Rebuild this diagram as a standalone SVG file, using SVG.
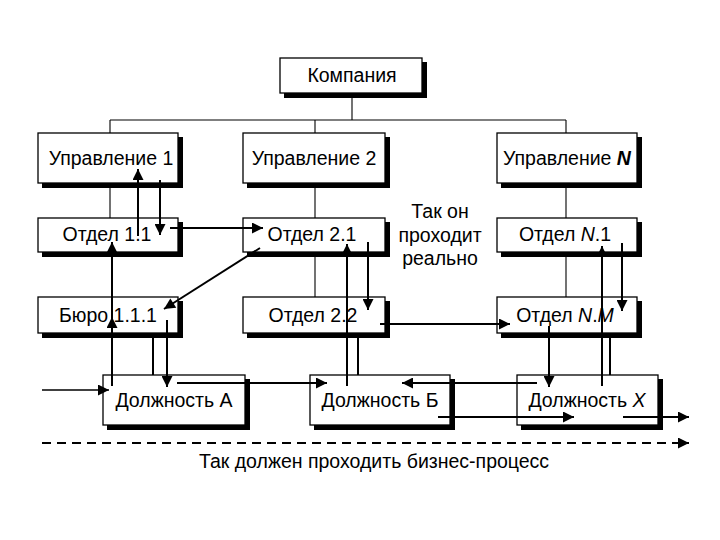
<svg xmlns="http://www.w3.org/2000/svg" width="720" height="540" viewBox="0 0 720 540">
<style>
.box{fill:#fff;stroke:#000;stroke-width:1.3}
.sh{fill:#000}
.t{font-family:"Liberation Sans",Arial,sans-serif;font-size:19.5px;fill:#000;text-anchor:middle}
.tree{stroke:#000;stroke-width:1.1;fill:none}
.ar{stroke:#000;stroke-width:2;fill:none;marker-end:url(#ah)}
.ln{stroke:#000;stroke-width:2;fill:none}
.dash{stroke:#000;stroke-width:1.8;fill:none;stroke-dasharray:9 6;marker-end:url(#ah)}
</style>
<defs>
<marker id="ah" viewBox="0 0 10 10" refX="10" refY="5" markerWidth="13" markerHeight="11" markerUnits="userSpaceOnUse" orient="auto"><path d="M0,0 L10,5 L0,10 z" fill="#000"/></marker>
</defs>
<rect width="720" height="540" fill="#fff"/>

<g id="n-company"><rect class="sh" x="284" y="62" width="143" height="36"/><rect class="box" x="280" y="58" width="142" height="35"/><text class="t" x="352" y="82">Компания</text></g>

<g id="n-upr1"><rect class="sh" x="42" y="137" width="141" height="51"/><rect class="box" x="38" y="133" width="140" height="50"/><text class="t" x="111" y="165">Управление 1</text></g>
<g id="n-upr2"><rect class="sh" x="247" y="137" width="143" height="51"/><rect class="box" x="243" y="133" width="142" height="50"/><text class="t" x="314" y="165">Управление 2</text></g>
<g id="n-uprN"><rect class="sh" x="501" y="137" width="141" height="51"/><rect class="box" x="497" y="133" width="140" height="50"/><text class="t" x="567" y="165">Управление <tspan font-style="italic" font-weight="bold">N</tspan></text></g>

<g id="n-otd11"><rect class="sh" x="42" y="222" width="141" height="35"/><rect class="box" x="38" y="218" width="140" height="34"/><text class="t" x="107" y="241">Отдел 1.1</text></g>
<g id="n-otd21"><rect class="sh" x="247" y="222" width="143" height="35"/><rect class="box" x="243" y="218" width="142" height="34"/><text class="t" x="312" y="241">Отдел 2.1</text></g>
<g id="n-otdN1"><rect class="sh" x="501" y="222" width="141" height="35"/><rect class="box" x="497" y="218" width="140" height="34"/><text class="t" x="565" y="241">Отдел <tspan font-style="italic">N</tspan>.1</text></g>

<g id="n-note"><text class="t" x="440" y="218">Так он</text><text class="t" x="440" y="242">проходит</text><text class="t" x="440" y="265">реально</text></g>

<g id="n-buro"><rect class="sh" x="42" y="301" width="141" height="37"/><rect class="box" x="38" y="297" width="140" height="36"/><text class="t" x="108" y="322">Бюро 1.1.1</text></g>
<g id="n-otd22"><rect class="sh" x="247" y="301" width="143" height="37"/><rect class="box" x="243" y="297" width="142" height="36"/><text class="t" x="313" y="322">Отдел 2.2</text></g>
<g id="n-otdNM"><rect class="sh" x="501" y="301" width="141" height="37"/><rect class="box" x="497" y="297" width="140" height="36"/><text class="t" x="565" y="322">Отдел <tspan font-style="italic">N</tspan>.<tspan font-style="italic">M</tspan></text></g>

<g id="n-dolA"><rect class="sh" x="107" y="379" width="143" height="51"/><rect class="box" x="103" y="375" width="142" height="50"/><text class="t" x="174" y="407">Должность А</text></g>
<g id="n-dolB"><rect class="sh" x="314" y="379" width="141" height="51"/><rect class="box" x="310" y="375" width="140" height="50"/><text class="t" x="380" y="407">Должность Б</text></g>
<g id="n-dolX"><rect class="sh" x="521" y="379" width="142" height="51"/><rect class="box" x="517" y="375" width="141" height="50"/><text class="t" x="587" y="407">Должность <tspan font-style="italic">X</tspan></text></g>

<g id="connectors">
<!-- org tree -->
<path class="tree" d="M352,93 V120 M110,120 H566 M110,120 V133 M315,120 V133 M566,120 V133"/>
<path class="tree" d="M110,183 V218 M315,183 V218 M566,183 V218"/>
<path class="tree" d="M315,252 V297 M566,252 V297"/>
<!-- process flow -->
<line class="ar" x1="138" y1="236" x2="138" y2="169"/>
<line class="ar" x1="160" y1="180" x2="160" y2="235"/>
<line class="ar" x1="170" y1="228" x2="263" y2="228"/>
<line class="ar" x1="260" y1="248" x2="164" y2="309"/>
<line class="ar" x1="112" y1="318" x2="112" y2="242"/>
<line class="ar" x1="112" y1="386" x2="112" y2="317"/>
<line class="ln" x1="153" y1="333" x2="153" y2="375"/>
<line class="ar" x1="167" y1="320" x2="167" y2="387"/>
<line class="ar" x1="42" y1="390" x2="109" y2="390" style="stroke-width:1.4"/>
<line class="ar" x1="177" y1="383" x2="327" y2="383"/>
<line class="ar" x1="347" y1="386" x2="347" y2="244"/>
<line class="ar" x1="368" y1="242" x2="368" y2="310"/>
<line class="ln" x1="358" y1="333" x2="358" y2="375"/>
<line class="ar" x1="380" y1="324" x2="510" y2="324"/>
<line class="ar" x1="537" y1="383" x2="402" y2="383"/>
<line class="ar" x1="438" y1="417" x2="574" y2="417"/>
<line class="ar" x1="623" y1="417" x2="689" y2="417"/>
<line class="ar" x1="602" y1="386" x2="602" y2="246"/>
<line class="ar" x1="622" y1="243" x2="622" y2="311"/>
<line class="ln" x1="610" y1="333" x2="610" y2="375"/>
<line class="ar" x1="549" y1="326" x2="549" y2="387"/>
<line class="dash" x1="42" y1="443" x2="689" y2="443"/>
</g>

<text class="t" x="374" y="468">Так должен проходить бизнес-процесс</text>
</svg>
